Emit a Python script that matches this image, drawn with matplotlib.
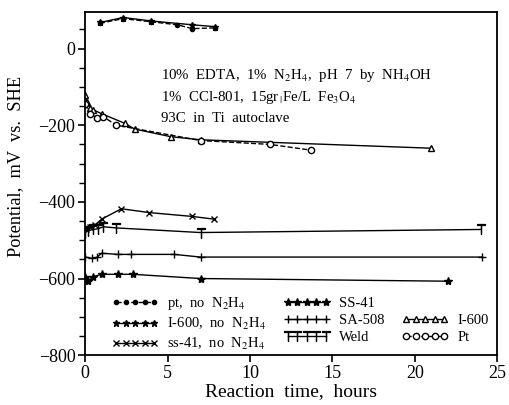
import matplotlib.pyplot as plt
from matplotlib.lines import Line2D
from matplotlib.ticker import MultipleLocator

plt.rcParams['font.family'] = ['Liberation Serif', 'DejaVu Serif']
plt.rcParams['mathtext.fontset'] = 'stix'

# potential (mV vs SHE) against time (hours)
pt_noN_t = [0.9, 2.3, 4.0, 5.6, 6.5, 7.9]
pt_noN_v = [66, 78, 70, 62, 52, 54]

i600_noN_t = [0.9, 2.3, 4.0, 6.5, 7.9]
i600_noN_v = [68, 81, 72, 62, 57]

ss41_noN_t = [0.05, 0.3, 0.6, 1.0, 2.2, 3.9, 6.5, 7.8]
ss41_noN_v = [-470, -465, -460, -445, -418, -428, -438, -445]

ss41_t = [0.0, 0.2, 0.5, 1.0, 2.0, 2.9, 7.0, 22.0]
ss41_v = [-596, -607, -595, -589, -589, -589, -600, -607]

sa508_t = [0.0, 0.4, 0.7, 1.0, 2.0, 2.8, 5.4, 7.0, 24.1]
sa508_v = [-544, -547, -545, -534, -537, -537, -537, -544, -544]

weld_t = [0.0, 0.2, 0.5, 0.8, 1.1, 1.9, 7.0, 24.0]
weld_v = [-480, -475, -472, -470, -465, -468, -480, -472]

i600_t = [0.0, 0.1, 0.3, 0.5, 1.0, 2.4, 3.0, 5.2, 7.0, 21.0]
i600_v = [-120, -140, -155, -160, -170, -195, -210, -230, -238, -260]

pt_t = [0.0, 0.3, 0.7, 1.1, 1.9, 7.0, 11.2, 13.7]
pt_v = [-145, -170, -180, -178, -200, -240, -250, -265]

fig = plt.figure(figsize=(5.1, 4.05), dpi=100)
ax = fig.add_axes([0.167, 0.123, 0.808, 0.847])

k = dict(color='black', lw=1.0)
h1, = ax.plot(pt_noN_t, pt_noN_v, ls='--', marker='o', ms=3, label=r'pt,  no  N$_2$H$_4$', **k)
h2, = ax.plot(i600_noN_t, i600_noN_v, ls='-', marker='*', ms=5, label=r'I-600,  no  N$_2$H$_4$', **k)
h3, = ax.plot(ss41_noN_t, ss41_noN_v, ls='-', marker='x', ms=4, label=r'ss-41,  no  N$_2$H$_4$', **k)
h4, = ax.plot(ss41_t, ss41_v, ls='-', marker='*', ms=6, label='SS-41', **k)
h5, = ax.plot(sa508_t, sa508_v, ls='-', marker='+', ms=6, label='SA-508', **k)
h6, = ax.plot(weld_t, weld_v, ls='-', marker=r'$\top$', ms=7, mew=0.9, label='Weld', **k)
h7, = ax.plot(i600_t, i600_v, ls='-', marker='^', ms=4.5, mfc='white', label='I-600', **k)
h8, = ax.plot(pt_t, pt_v, ls='--', marker='o', ms=4.5, mfc='white', label='Pt', **k)

blank = Line2D([], [], color='none')
handles = [h1, h2, h3, h4, h5, h6, blank, h7, h8]
labels = [h.get_label() for h in handles]
labels[6] = ''
ax.legend(handles, labels, ncol=3, numpoints=5, handlelength=3.2, frameon=False,
          loc='lower left', bbox_to_anchor=(0.04, -0.02), fontsize=10.5,
          columnspacing=1.2, handletextpad=0.6, labelspacing=0.25, borderaxespad=0.3)

ax.text(4.6, -70, r'10%  EDTA,  1%  N$_2$H$_4$,  pH  7  by  NH$_4$OH', fontsize=10.7, va='center')
ax.text(4.6, -127, r'1%  CCl-801,  15gr$_{\,|}$Fe/L  Fe$_3$O$_4$', fontsize=10.7, va='center')
ax.text(4.6, -182, '93C  in  Ti  autoclave', fontsize=10.7, va='center')

ax.set_xlim(0, 25)
ax.set_ylim(-800, 95)
ax.set_xticks([0, 5, 10, 15, 20, 25])
ax.set_yticks([-800, -600, -400, -200, 0])
ax.set_yticklabels(['\u2212800', '\u2212600', '\u2212400', '\u2212200', '0'])
ax.yaxis.set_minor_locator(MultipleLocator(50))
ax.tick_params(labelsize=13, direction='out', length=5, width=1.2, pad=2)
ax.tick_params(which='minor', direction='out', length=4, width=1.0)
for s in ax.spines.values():
    s.set_linewidth(1.3)

ax.set_xlabel('Reaction  time,  hours', fontsize=14, labelpad=1)
ax.set_ylabel('Potential,  mV  vs.  SHE', fontsize=13.2)
ax.yaxis.set_label_coords(-0.148, 0.55)

fig.savefig('out.png', dpi=100)
